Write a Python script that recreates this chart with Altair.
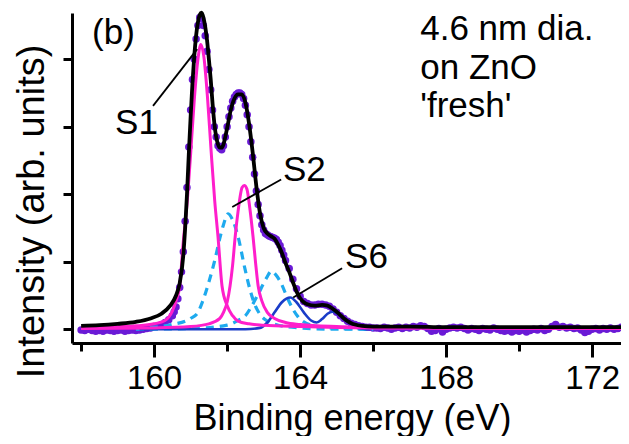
import altair as alt
import pandas as pd
import numpy as np

# ---------------- measured spectrum (purple dots) ----------------
data_x = np.round(np.concatenate([
    np.arange(158.0, 160.51, 0.1),
    np.arange(160.55, 163.61, 0.05),
    np.arange(163.7, 173.01, 0.1),
]), 2)
data_y = [
    # 158.0 - 160.5
    -0.01, -0.02, 0.00, -0.02, -0.03, -0.02, -0.03, -0.01, -0.02, -0.03,
    -0.02, -0.01, -0.03, -0.02, -0.01, -0.02, -0.01, 0.00, 0.01, 0.02,
    0.04, 0.05, 0.07, 0.10, 0.14, 0.20,
    # 160.55 - 163.60
    0.26, 0.33, 0.45, 0.62, 0.85, 1.15, 1.60, 2.10, 2.70, 3.25,
    3.70, 4.00, 4.30, 4.50, 4.62, 4.60, 4.50, 4.35, 4.12, 3.85,
    3.55, 3.25, 3.00, 2.85, 2.72, 2.68, 2.66, 2.72, 2.85, 3.00,
    3.15, 3.28, 3.38, 3.44, 3.48, 3.50, 3.50, 3.48, 3.42, 3.32,
    3.18, 3.00, 2.78, 2.55, 2.30, 2.05, 1.85, 1.68, 1.55, 1.47,
    1.42, 1.40, 1.38, 1.37, 1.36, 1.35, 1.33, 1.29, 1.24, 1.17,
    1.10, 1.02,
    # 163.7 - 166.0
    0.90, 0.74, 0.60, 0.49, 0.41, 0.38, 0.36, 0.36, 0.37, 0.37,
    0.36, 0.34, 0.30, 0.25, 0.20, 0.16, 0.12, 0.09, 0.07, 0.05,
    0.04, 0.03, 0.03, 0.02,
    # 166.1 - 173.0
    0.02, 0.01, 0.03, 0.02, 0.00, 0.02, 0.03, 0.01, 0.03, 0.02,
    0.04, 0.03, 0.05, 0.04, 0.01, -0.03, -0.02, 0.01, -0.04, 0.00,
    0.02, 0.03, 0.02, 0.03, 0.01, -0.01, 0.01, 0.00, -0.02, 0.01,
    0.00, -0.01, 0.02, 0.00, -0.02, -0.03, -0.02, -0.04, -0.02, -0.03,
    -0.01, -0.04, -0.02, 0.00, -0.01, 0.01, -0.02, 0.00, 0.04, 0.07,
    0.03, 0.04, 0.02, 0.03, 0.01, 0.02, -0.01, -0.05, -0.03, 0.00,
    0.01, -0.01, 0.01, 0.00, 0.02, 0.00, 0.01, 0.03, 0.06, 0.04,
]

# ---------------- envelope fit (black) ----------------
fit_x = [158.0, 158.5, 159.0, 159.5, 159.9, 160.2, 160.44, 160.6, 160.7, 160.8,
         160.85, 160.9, 160.95, 161.0, 161.05, 161.1, 161.15, 161.2, 161.25, 161.3,
         161.35, 161.4, 161.45, 161.5, 161.55, 161.6, 161.65, 161.7, 161.75, 161.8,
         161.85, 161.9, 161.95, 162.0, 162.1, 162.2, 162.3, 162.4, 162.5, 162.6,
         162.7, 162.8, 162.9, 163.0, 163.1, 163.2, 163.3, 163.4, 163.5, 163.6,
         163.7, 163.8, 163.9, 164.0, 164.1, 164.2, 164.4, 164.6, 164.75, 164.9,
         165.0, 165.1, 165.2, 165.3, 165.4, 165.5, 165.7, 166.0, 167.0, 168.0,
         170.0, 173.0]
fit_y = [0.05, 0.06, 0.08, 0.11, 0.16, 0.23, 0.35, 0.50, 0.68, 1.10,
         1.50, 2.00, 2.60, 3.15, 3.65, 4.05, 4.35, 4.55, 4.66, 4.69,
         4.62, 4.48, 4.28, 4.00, 3.70, 3.35, 3.05, 2.85, 2.74, 2.69,
         2.69, 2.74, 2.85, 2.98, 3.25, 3.42, 3.48, 3.48, 3.36, 3.05,
         2.62, 2.12, 1.72, 1.50, 1.42, 1.38, 1.34, 1.25, 1.13, 0.98,
         0.85, 0.70, 0.56, 0.46, 0.40, 0.37, 0.35, 0.36, 0.35, 0.30,
         0.26, 0.21, 0.16, 0.12, 0.09, 0.07, 0.05, 0.04, 0.04, 0.03,
         0.03, 0.03]

# ---------------- S1 doublet (magenta) ----------------
s1a_x = [158.0, 159.0, 159.5, 160.0, 160.3, 160.5, 160.6, 160.7, 160.8, 160.9,
         161.0, 161.1, 161.2, 161.28, 161.36, 161.46, 161.56, 161.66, 161.75, 161.86,
         162.0, 162.15, 162.3, 162.6, 163.0, 164.0, 166.0, 173.0]
s1a_y = [0.03, 0.04, 0.05, 0.08, 0.13, 0.27, 0.42, 0.64, 1.30, 1.85,
         2.60, 3.40, 4.00, 4.22, 4.05, 3.45, 2.65, 1.90, 1.37, 0.64,
         0.35, 0.20, 0.12, 0.08, 0.06, 0.04, 0.02, 0.01]
s1b_x = [158.0, 160.0, 161.0, 161.5, 161.8, 161.9, 162.0, 162.08, 162.15, 162.22,
         162.3, 162.41, 162.47, 162.54, 162.62, 162.71, 162.78, 162.85, 162.95, 163.1,
         163.3, 163.6, 164.0, 165.0, 166.0, 168.0, 173.0]
s1b_y = [0.01, 0.02, 0.04, 0.08, 0.16, 0.25, 0.40, 0.64, 0.95, 1.37,
         1.75, 2.10, 2.13, 2.08, 1.80, 1.37, 0.98, 0.64, 0.42, 0.25,
         0.16, 0.10, 0.07, 0.04, 0.03, 0.02, 0.01]

# ---------------- S2 doublet (cyan, dashed) ----------------
s2a_x = [159.5, 160.0, 160.5, 161.0, 161.2, 161.32, 161.5, 161.67, 161.8, 161.9,
         162.03, 162.15, 162.3, 162.49, 162.63, 162.77, 162.9, 163.1, 163.4, 164.0,
         165.0, 166.0]
s2a_y = [0.01, 0.03, 0.07, 0.16, 0.25, 0.40, 0.70, 1.04, 1.35, 1.55,
         1.71, 1.62, 1.37, 0.89, 0.58, 0.35, 0.22, 0.12, 0.06, 0.02,
         0.00, 0.00]
s2b_x = [159.5, 161.0, 162.0, 162.3, 162.5, 162.68, 162.85, 163.0, 163.1, 163.21,
         163.33, 163.48, 163.67, 163.8, 163.95, 164.1, 164.3, 164.6, 165.2, 166.0]
s2b_y = [0.00, 0.01, 0.06, 0.13, 0.20, 0.35, 0.52, 0.68, 0.78, 0.86,
         0.81, 0.68, 0.44, 0.30, 0.18, 0.11, 0.06, 0.03, 0.01, 0.00]

# ---------------- S6 doublet (blue) ----------------
s6_x = [159.6, 162.5, 162.9, 163.1, 163.3, 163.5, 163.73, 163.9, 164.1, 164.3,
        164.45, 164.6, 164.75, 164.88, 165.05, 165.2, 165.4, 165.6, 165.9]
s6_y = [0.0, 0.0, 0.02, 0.10, 0.25, 0.40, 0.47, 0.40, 0.25, 0.13,
        0.10, 0.15, 0.23, 0.26, 0.22, 0.15, 0.07, 0.02, 0.0]

# ---------------- labels ----------------
lab_text = ["(b)", "S1", "S2", "S6", "4.6 nm dia.", "on ZnO", "'fresh'"]
lab_x = [158.30, 158.93, 163.53, 165.23, 167.29, 167.29, 167.29]
lab_y = [4.22, 2.89, 2.20, 0.905, 4.29, 3.71, 3.15]

lead_x = [159.97, 162.14, 163.81]
lead_y = [3.31, 1.81, 0.47]
lead_x2 = [161.18, 163.48, 165.15]
lead_y2 = [4.15, 2.22, 0.905]

BLACK = "#000000"
PURPLE = "#6a1ad6"
MAGENTA = "#ff1ecb"
CYAN = "#1eaaee"
BLUE = "#1a3cc8"
FONT = "Liberation Sans"

xs = alt.Scale(domain=[157.75, 172.79], nice=False, zero=False)
ys = alt.Scale(domain=[-0.204, 4.686], nice=False, zero=False)

x_axis = alt.Axis(
    values=[158, 160, 162, 164, 166, 168, 170, 172],
    format="d",
    labelExpr="datum.value % 4 == 0 ? datum.label : ''",
    tickSize={"condition": {"test": "datum.value % 4 == 0", "value": 14}, "value": 8},
    tickWidth=3, tickColor=BLACK, domainWidth=3, domainColor=BLACK,
    labelFont=FONT, labelFontSize=33, labelColor=BLACK, labelPadding=5,
    labelFlush=False,
    grid=False,
    title="Binding energy (eV)", titleFont=FONT, titleFontSize=36,
    titleFontWeight="normal", titleColor=BLACK,
    titleX=280, titleY=86, titleBaseline="alphabetic", titleAlign="center",
)
y_axis = alt.Axis(
    values=[0, 1, 2, 3, 4], labels=False,
    tickSize=9, tickWidth=3, tickColor=BLACK, domainWidth=3, domainColor=BLACK,
    grid=False,
    title="Intensity (arb. units)", titleFont=FONT, titleFontSize=38,
    titleFontWeight="normal", titleColor=BLACK, titleAngle=270,
    titleX=-29, titleY=198, titleBaseline="alphabetic", titleAlign="center",
)

df_data = pd.DataFrame({"x": data_x, "y": data_y})
points = alt.Chart(df_data).mark_circle(size=56, color=PURPLE, opacity=1).encode(
    x=alt.X("x:Q", scale=xs, axis=x_axis),
    y=alt.Y("y:Q", scale=ys, axis=y_axis),
)

def line(xv, yv, color, width, dash=None):
    df = pd.DataFrame({"x": xv, "y": yv})
    kw = dict(color=color, strokeWidth=width, interpolate="monotone", clip=False)
    if dash:
        kw["strokeDash"] = dash
    return alt.Chart(df).mark_line(**kw).encode(
        x=alt.X("x:Q", scale=xs),
        y=alt.Y("y:Q", scale=ys),
    )

layers = [
    points,
    line(s2a_x, s2a_y, CYAN, 3.2, [8, 6]),
    line(s2b_x, s2b_y, CYAN, 3.2, [8, 6]),
    line(s6_x, s6_y, BLUE, 2.6),
    line(s1a_x, s1a_y, MAGENTA, 3),
    line(s1b_x, s1b_y, MAGENTA, 3),
    line(fit_x, fit_y, BLACK, 3.8),
]

df_lead = pd.DataFrame({"x": lead_x, "y": lead_y, "x2": lead_x2, "y2": lead_y2})
leaders = alt.Chart(df_lead).mark_rule(color=BLACK, strokeWidth=1.8).encode(
    x=alt.X("x:Q", scale=xs),
    y=alt.Y("y:Q", scale=ys),
    x2="x2:Q", y2="y2:Q",
)

df_lab = pd.DataFrame({"x": lab_x, "y": lab_y, "t": lab_text})
labels = alt.Chart(df_lab).mark_text(
    align="left", baseline="alphabetic", font=FONT, fontSize=35, color=BLACK
).encode(
    x=alt.X("x:Q", scale=xs),
    y=alt.Y("y:Q", scale=ys),
    text="t:N",
)

chart = alt.layer(*layers, leaders, labels).properties(
    width=549, height=330,
    autosize=alt.AutoSizeParams(type="none"),
    padding={"left": 64, "top": 5, "right": 0, "bottom": 93},
    background="white",
).configure_view(stroke=None)

chart.save("out.html", embed_options={"renderer": "svg", "actions": False})
